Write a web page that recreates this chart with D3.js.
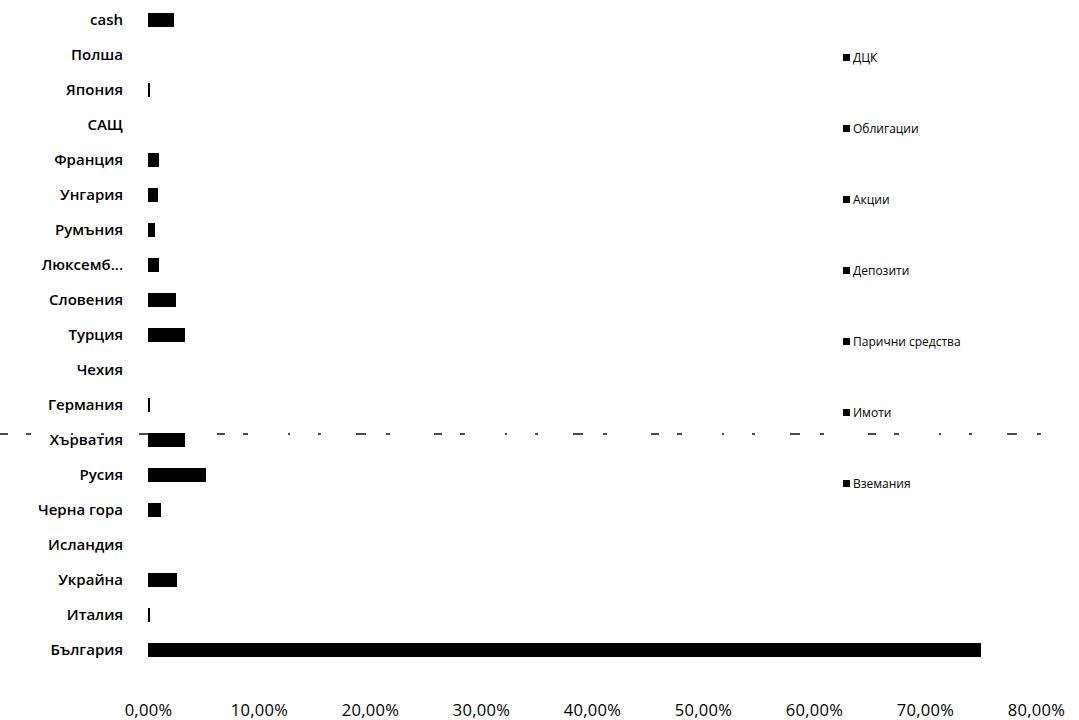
<!DOCTYPE html>
<html>
<head>
<meta charset="utf-8">
<style>
    body { margin: 0; background: #fff; }
    .cat text { font: 600 15px "Open Sans", sans-serif; fill: #000; }
    .xax text { font: 16.5px "Open Sans", sans-serif; fill: #000; letter-spacing: 0.3px; }
    .legend text { font: 12px "Open Sans", sans-serif; fill: #000; }
</style>
</head>
<body>
<svg width="1079" height="720"></svg>
<script src="https://d3js.org/d3.v7.min.js"></script>
<script>

// categories, top to bottom
var categories = ["cash", "Полша", "Япония", "САЩ", "Франция", "Унгария", "Румъния", "Люксемб...",
    "Словения", "Турция", "Чехия", "Германия", "Хърватия", "Русия", "Черна гора", "Исландия",
    "Украйна", "Италия", "България"];

var seriesNames = ["ДЦК", "Облигации", "Акции", "Депозити", "Парични средства", "Имоти", "Вземания"];

// values in %, same order as categories
var dck        = [0, 0, 0,   0, 0,   0,   0,   0,   0,   0,   0, 0,   0,   0,   0,   0, 0,   0,   30.0];
var bonds      = [0, 0, 0.2, 0, 0.6, 0.9, 0.6, 0,   1.5, 2.0, 0, 0.2, 2.3, 3.2, 1.2, 0, 2.6, 0.2, 12.0];
var shares     = [0, 0, 0,   0, 0.4, 0,   0,   1.0, 1.0, 1.3, 0, 0,   1.0, 2.0, 0,   0, 0,   0,   15.0];
var deposits   = [0, 0, 0,   0, 0,   0,   0,   0,   0,   0,   0, 0,   0,   0,   0,   0, 0,   0,   8.0];
var cashFunds  = [2.3, 0, 0, 0, 0,   0,   0,   0,   0,   0,   0, 0,   0,   0,   0,   0, 0,   0,   5.0];
var realEstate = [0, 0, 0,   0, 0,   0,   0,   0,   0,   0,   0, 0,   0,   0,   0,   0, 0,   0,   3.0];
var receivables= [0, 0, 0,   0, 0,   0,   0,   0,   0,   0,   0, 0,   0,   0,   0,   0, 0,   0,   2.0];

var xTicks = [0, 10, 20, 30, 40, 50, 60, 70, 80];

var seriesValues = [dck, bonds, shares, deposits, cashFunds, realEstate, receivables];
// the scan is black and white, every series prints black
var colors = ["#000", "#000", "#000", "#000", "#000", "#000", "#000"];

var svg = d3.select("svg");

var table = categories.map(function (c, i) {
    var row = { cat: c };
    seriesNames.forEach(function (s, j) { row[s] = seriesValues[j][i]; });
    return row;
});

var stack = d3.stack().keys(seriesNames)(table);

var x = d3.scaleLinear().domain([0, 80]).range([148, 1036]);
var y = d3.scaleBand().domain(categories).range([2.5, 667.5]).paddingInner(0.6).paddingOuter(0.3);

// stray dashed scan line
svg.append("line")
    .attr("x1", 0).attr("x2", 1079).attr("y1", 434).attr("y2", 434)
    .attr("stroke", "#111").attr("stroke-width", 1.3)
    .attr("stroke-dasharray", "8,18,5,40,2,28,3,35,10,20,4,44");

svg.append("g").selectAll("g")
    .data(stack)
    .enter().append("g")
    .attr("fill", function (d, i) { return colors[i]; })
    .selectAll("rect")
    .data(function (d) { return d; })
    .enter().append("rect")
    .attr("shape-rendering", "crispEdges")
    .attr("x", function (d) { return x(d[0]); })
    .attr("y", function (d) { return y(d.data.cat); })
    .attr("width", function (d) { return x(d[1]) - x(d[0]); })
    .attr("height", y.bandwidth());

// category axis
svg.append("g")
    .attr("class", "cat")
    .attr("transform", "translate(148,0)")
    .call(d3.axisLeft(y).tickSize(0).tickPadding(25))
    .call(function (g) { g.select(".domain").remove(); });

// value axis
var fmt = function (v) { return v.toFixed(2).replace(".", ",") + "%"; };
svg.append("g")
    .attr("class", "xax")
    .attr("transform", "translate(0,699)")
    .call(d3.axisBottom(x).tickValues(xTicks).tickFormat(fmt).tickSize(0).tickPadding(5))
    .call(function (g) { g.select(".domain").remove(); });

// legend
var legend = svg.append("g").attr("class", "legend")
    .selectAll("g")
    .data(seriesNames)
    .enter().append("g")
    .attr("transform", function (d, i) { return "translate(843," + (58 + i * 71) + ")"; });

legend.append("rect")
    .attr("x", 0).attr("y", -4).attr("width", 7).attr("height", 7)
    .attr("fill", function (d, i) { return colors[i]; });

legend.append("text")
    .attr("x", 10).attr("y", 0).attr("dy", "0.35em")
    .text(function (d) { return d; });

</script>
</body>
</html>
